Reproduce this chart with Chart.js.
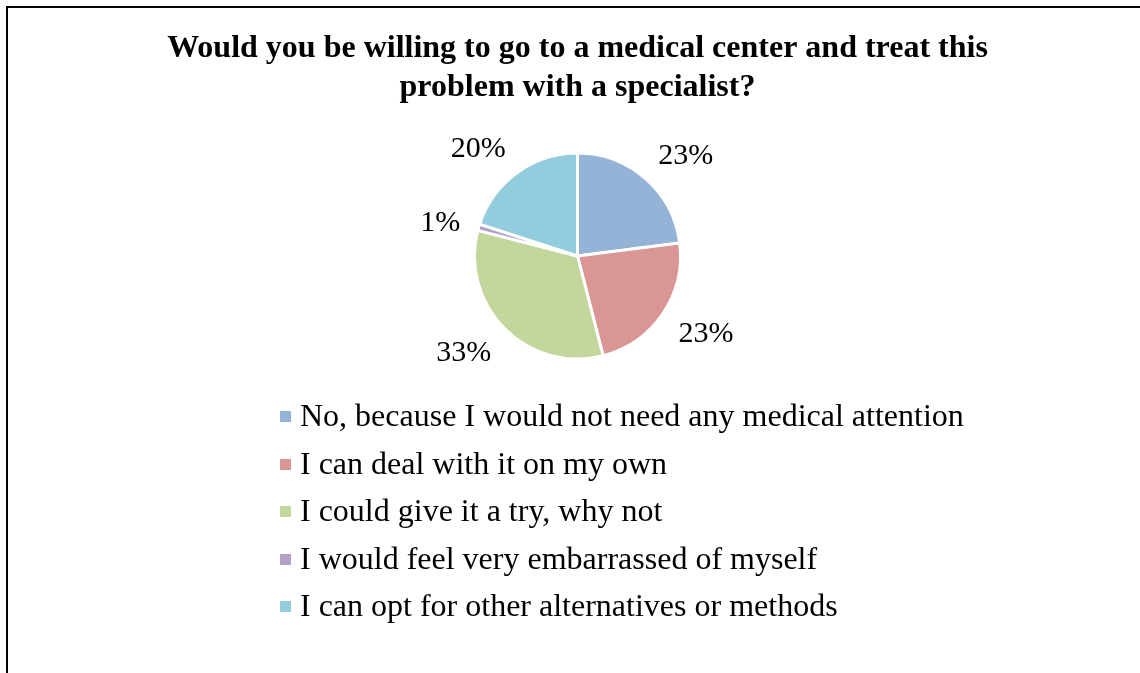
<!DOCTYPE html>
<html lang="en">
<head>
    <meta charset="UTF-8">
    <title>Willingness to see a specialist</title>
    <script src="https://cdn.jsdelivr.net/npm/chart.js"></script>
    <style>
        html, body { margin: 0; padding: 0; background: #fff; overflow: hidden; }
        #frame {
            position: absolute; left: 6px; top: 6px;
            width: 1139px; height: 700px;
            border: 2px solid #000;
        }
        #box { position: absolute; left: 0; top: 0; width: 1139px; height: 665px; }
        #legend {
            position: absolute; left: 272px; top: 384px;
            margin: 0; padding: 0; list-style: none;
            font-family: "Liberation Serif", "Times New Roman", serif;
            font-size: 32px; color: #000;
        }
        #legend li { height: 47.5px; line-height: 47.5px; white-space: nowrap; }
        #legend span.sw {
            display: inline-block; width: 11px; height: 11px;
            margin-right: 9px; vertical-align: middle; position: relative; top: -2px;
        }
    </style>
</head>
<body>
<div id="frame">
    <div id="box"><canvas id="myChart"></canvas></div>
    <ul id="legend"></ul>
</div>

<script>
    // Survey answers and their share of respondents (%)
    const answers = [
        'No, because I would not need any medical attention',
        'I can deal with it on my own',
        'I could give it a try, why not',
        'I would feel very embarrassed of myself',
        'I can opt for other alternatives or methods'
    ];
    const shares = [23, 23, 33, 1, 20];
    const colors = ['#95B3D7', '#D99694', '#C3D69B', '#B2A2C7', '#93CDDD'];

    const serif = '"Liberation Serif", "Times New Roman", serif';

    // percentage labels outside each slice, pushed off an anchor point a
    // little beyond the rim on the slice's middle angle
    const outsideLabels = {
        id: 'outsideLabels',
        afterDatasetsDraw(chart) {
            const ctx = chart.ctx;
            const meta = chart.getDatasetMeta(0);
            ctx.save();
            ctx.font = '30px ' + serif;
            ctx.fillStyle = '#000';
            ctx.textBaseline = 'alphabetic';
            meta.data.forEach((arc, i) => {
                const p = arc.getProps(['x', 'y', 'startAngle', 'endAngle', 'outerRadius'], true);
                const mid = (p.startAngle + p.endAngle) / 2;
                const ux = Math.cos(mid), uy = Math.sin(mid);
                const r = p.outerRadius + 19;
                const ax = p.x + ux * r;
                const ay = p.y + uy * r;
                const text = shares[i] + '%';
                const h = ctx.measureText(text).actualBoundingBoxAscent;
                // labels near the horizontal sit centred on the anchor
                const lift = Math.min(Math.max((Math.abs(uy) - 0.3) / 0.3, 0), 1);
                const cy = ay + Math.sign(uy) * lift * h / 2;
                ctx.textAlign = ux >= 0 ? 'left' : 'right';
                ctx.fillText(text, ax, cy + h / 2);
            });
            ctx.restore();
        }
    };

    const ctx = document.getElementById('myChart').getContext('2d');
    const chart = new Chart(ctx, {
        type: 'pie',
        data: {
            labels: answers,
            datasets: [{
                data: shares,
                backgroundColor: colors,
                borderColor: '#fff',
                borderWidth: 3
            }]
        },
        options: {
            responsive: true,
            maintainAspectRatio: false,
            animation: false,
            layout: { padding: { top: 0, bottom: 312.5, left: 0, right: 0 } },
            plugins: {
                legend: { display: false },
                tooltip: { enabled: false },
                title: {
                    display: true,
                    text: ['Would you be willing to go to a medical center and treat this',
                           'problem with a specialist?'],
                    color: '#000',
                    font: { family: serif, size: 32, weight: 'bold', lineHeight: 1.2 },
                    padding: { top: 22, bottom: 44.7 }
                }
            }
        },
        plugins: [outsideLabels]
    });

    // legend list below the pie, built from the chart's own labels
    const list = document.getElementById('legend');
    chart.options.plugins.legend.labels.generateLabels(chart).forEach(item => {
        const li = document.createElement('li');
        const sw = document.createElement('span');
        sw.className = 'sw';
        sw.style.background = item.fillStyle;
        li.appendChild(sw);
        li.appendChild(document.createTextNode(item.text));
        list.appendChild(li);
    });
</script>
</body>
</html>
